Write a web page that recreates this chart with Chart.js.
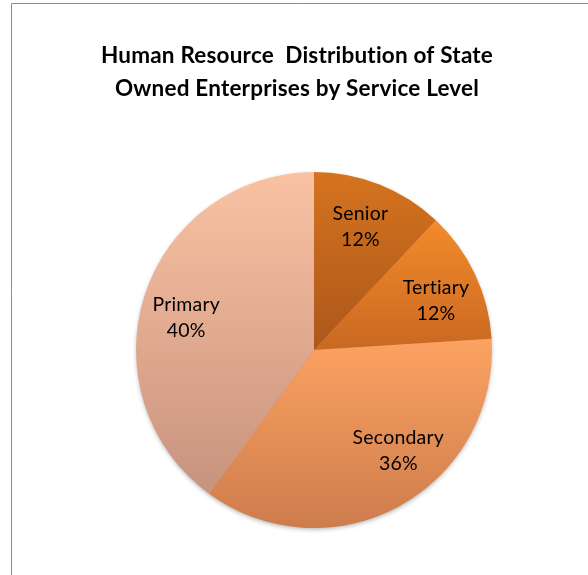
<!DOCTYPE html>
<html>
<head>
<meta charset="utf-8">
<script src="https://cdn.jsdelivr.net/npm/chart.js@4.4.1/dist/chart.umd.min.js"></script>
<style>
  html, body { margin: 0; padding: 0; background: #fff; }
  #wrap { width: 588px; height: 575px; position: relative; }
</style>
</head>
<body>
<div id="wrap"><canvas id="pieChart" width="588" height="575"></canvas></div>
<script>
const categorias = ["Senior", "Tertiary", "Secondary", "Primary"];
const porcentajes = [12, 12, 36, 40];
const tituloLineas = ["Human Resource  Distribution of State", "Owned Enterprises by Service Level"];

// colores arriba / abajo de cada porcion (degradado tipo Excel)
const colorArriba = ["#D5731F", "#F38B2B", "#FCA262", "#FAC2A3"];
const colorAbajo = ["#AC571A", "#C96822", "#CD7C4C", "#C8937E"];

// extension vertical de un sector del pastel
const extensionSector = (cy, r, a0, a1) => {
    let ys = [cy, cy + r * Math.sin(a0), cy + r * Math.sin(a1)];
    for (let k = -2; k <= 2; k++) {
        const abajo = Math.PI / 2 + k * 2 * Math.PI;
        const arriba = -Math.PI / 2 + k * 2 * Math.PI;
        if (abajo > a0 && abajo < a1) ys.push(cy + r);
        if (arriba > a0 && arriba < a1) ys.push(cy - r);
    }
    return [Math.min(...ys), Math.max(...ys)];
};

const obtenerDegradado = (context) => {
    const chart = context.chart;
    const area = chart.chartArea;
    const i = context.dataIndex;
    if (!area || i === undefined) return colorArriba[i] || colorArriba[0];
    const total = porcentajes.reduce((a, b) => a + b, 0);
    const previo = porcentajes.slice(0, i).reduce((a, b) => a + b, 0);
    const a0 = -Math.PI / 2 + previo / total * 2 * Math.PI;
    const a1 = a0 + porcentajes[i] / total * 2 * Math.PI;
    const cx = (area.left + area.right) / 2;
    const cy = (area.top + area.bottom) / 2;
    const r = Math.min(area.right - area.left, area.bottom - area.top) / 2;
    const [y0, y1] = extensionSector(cy, r, a0, a1);
    const g = chart.ctx.createLinearGradient(cx, y0, cx, y1);
    g.addColorStop(0, colorArriba[i]);
    g.addColorStop(1, colorAbajo[i]);
    return g;
};

// marco, titulo y sombra del pastel
const marcoYTitulo = {
    id: 'marcoYTitulo',
    beforeDraw(chart) {
        const ctx = chart.ctx;
        ctx.save();
        ctx.strokeStyle = '#8c8c8c';
        ctx.lineWidth = 1;
        ctx.beginPath();
        ctx.moveTo(11.5, chart.height);
        ctx.lineTo(11.5, 3.5);
        ctx.lineTo(chart.width, 3.5);
        ctx.stroke();
        ctx.fillStyle = '#000';
        ctx.font = 'bold 22.5px Lato, "Open Sans", sans-serif';
        ctx.letterSpacing = '0.2px';
        ctx.textAlign = 'center';
        ctx.textBaseline = 'middle';
        tituloLineas.forEach((t, i) => ctx.fillText(t, 297, 56 + i * 33));
        ctx.restore();
    },
    beforeDatasetsDraw(chart) {
        const arc = chart.getDatasetMeta(0).data[0];
        if (!arc) return;
        const ctx = chart.ctx;
        ctx.save();
        ctx.shadowColor = 'rgba(0,0,0,0.35)';
        ctx.shadowBlur = 5;
        ctx.shadowOffsetY = 2;
        ctx.fillStyle = '#d08050';
        ctx.beginPath();
        ctx.arc(arc.x, arc.y, arc.outerRadius - 1, 0, Math.PI * 2);
        ctx.fill();
        ctx.restore();
    }
};

// etiquetas dentro de cada porcion
const etiquetasPastel = {
    id: 'etiquetasPastel',
    afterDatasetsDraw(chart, args, opts) {
        const ctx = chart.ctx;
        const meta = chart.getDatasetMeta(0);
        ctx.save();
        ctx.fillStyle = '#000';
        ctx.font = '19.5px Lato, "Open Sans", sans-serif';
        ctx.letterSpacing = '0.2px';
        ctx.textAlign = 'center';
        ctx.textBaseline = 'middle';
        meta.data.forEach((arc, i) => {
            const medio = (arc.startAngle + arc.endAngle) / 2 + (opts.ajusteAngulo[i] || 0) * Math.PI / 180;
            const d = arc.outerRadius * opts.fraccionRadio;
            const x = arc.x + Math.cos(medio) * d;
            const y = arc.y + Math.sin(medio) * d;
            ctx.fillText(categorias[i], x, y - 13);
            ctx.fillText(porcentajes[i] + '%', x, y + 13);
        });
        ctx.restore();
    }
};

const ctx = document.getElementById('pieChart').getContext('2d');
new Chart(ctx, {
    type: 'pie',
    data: {
        labels: categorias,
        datasets: [{
            data: porcentajes,
            backgroundColor: obtenerDegradado,
            borderWidth: 0
        }]
    },
    options: {
        responsive: false,
        animation: false,
        layout: { padding: { left: 135, right: 95, top: 172, bottom: 47 } },
        plugins: {
            legend: { display: false },
            title: { display: false },
            tooltip: { enabled: false },
            etiquetasPastel: { fraccionRadio: 0.74, ajusteAngulo: [-1, 3, -11, -4] }
        }
    },
    plugins: [marcoYTitulo, etiquetasPastel]
});
</script>
</body>
</html>
